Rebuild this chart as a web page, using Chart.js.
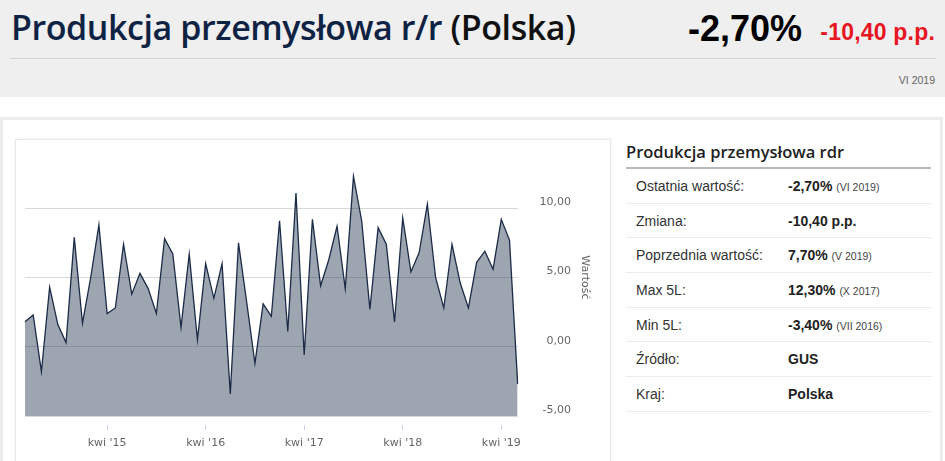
<!DOCTYPE html>
<html>
<head>
<meta charset="utf-8">
<script src="https://cdn.jsdelivr.net/npm/chart.js@4.4.1/dist/chart.umd.min.js"></script>
<style>
  body { margin:0; background:#fff; width:945px; height:461px; overflow:hidden; position:relative; font-family:"Liberation Sans", Arial, sans-serif; }
  .header { position:absolute; left:0; top:0; width:945px; height:97px; background:#efefef; }
  .title { position:absolute; left:11px; top:4px; font-family:"Open Sans", sans-serif; font-weight:600; font-size:34px; color:#0e2244; letter-spacing:-0.42px; white-space:nowrap; }
  .title span { color:#111; }
  .hline { position:absolute; left:10px; top:58px; width:926px; height:1px; background:#d4d4d4; }
  .big { position:absolute; right:143px; top:8px; font-weight:bold; font-size:36px; color:#000; }
  .chg { position:absolute; right:10px; top:19px; font-weight:bold; font-size:23px; color:#e8161f; letter-spacing:0.2px; }
  .date { position:absolute; right:10px; top:74px; font-size:10.5px; color:#666; }
  .panel { position:absolute; left:0; top:117px; width:937px; height:400px; border:3px solid #ececec; }
  .box { position:absolute; left:15px; top:139px; width:594px; height:340px; border:1px solid #e8e8e8; box-shadow:0 0 3px rgba(0,0,0,0.08); }
  #chart { position:absolute; left:15px; top:139px; }
  .side { position:absolute; left:626px; top:140px; width:305px; }
  .side h3 { margin:0; font-family:"Open Sans", sans-serif; font-weight:600; font-size:16.5px; color:#222; height:27px; line-height:24px; border-bottom:2px solid #b8b8b8; }
  .row { height:34.67px; box-sizing:border-box; border-bottom:1px solid #ececec; position:relative; font-size:14px; color:#333; }
  .row .l { position:absolute; left:10px; top:9px; }
  .row .v { position:absolute; left:162px; top:9px; font-weight:bold; color:#222; }
  .row .v small { font-weight:normal; font-size:10.5px; color:#444; }
</style>
</head>
<body>
<div class="header">
  <div class="title">Produkcja przemysłowa r/r <span>(Polska)</span></div>
  <div class="hline"></div>
  <div class="big">-2,70%</div>
  <div class="chg">-10,40 p.p.</div>
  <div class="date">VI 2019</div>
</div>
<div class="panel"></div>
<div class="box"></div>
<canvas id="chart" width="595" height="322"></canvas>
<div class="side">
  <h3>Produkcja przemysłowa rdr</h3>
  <div class="row"><span class="l">Ostatnia wartość:</span><span class="v">-2,70% <small>(VI 2019)</small></span></div>
  <div class="row"><span class="l">Zmiana:</span><span class="v">-10,40 p.p.</span></div>
  <div class="row"><span class="l">Poprzednia wartość:</span><span class="v">7,70% <small>(V 2019)</small></span></div>
  <div class="row"><span class="l">Max 5L:</span><span class="v">12,30% <small>(X 2017)</small></span></div>
  <div class="row"><span class="l">Min 5L:</span><span class="v">-3,40% <small>(VII 2016)</small></span></div>
  <div class="row"><span class="l">Źródło:</span><span class="v">GUS</span></div>
  <div class="row"><span class="l">Kraj:</span><span class="v">Polska</span></div>
</div>
<script>
// miesiace VI 2014 - VI 2019
var months = [
  "cze '14", "lip '14", "sie '14", "wrz '14", "paź '14", "lis '14", "gru '14",
  "sty '15", "lut '15", "mar '15", "kwi '15", "maj '15", "cze '15", "lip '15", "sie '15", "wrz '15", "paź '15", "lis '15", "gru '15",
  "sty '16", "lut '16", "mar '16", "kwi '16", "maj '16", "cze '16", "lip '16", "sie '16", "wrz '16", "paź '16", "lis '16", "gru '16",
  "sty '17", "lut '17", "mar '17", "kwi '17", "maj '17", "cze '17", "lip '17", "sie '17", "wrz '17", "paź '17", "lis '17", "gru '17",
  "sty '18", "lut '18", "mar '18", "kwi '18", "maj '18", "cze '18", "lip '18", "sie '18", "wrz '18", "paź '18", "lis '18", "gru '18",
  "sty '19", "lut '19", "mar '19", "kwi '19", "maj '19", "cze '19"
];

var values = [
  1.8, 2.3, -1.8, 4.3, 1.6, 0.3, 7.9,
  1.7, 5.0, 8.8, 2.4, 2.8, 7.4, 3.8, 5.3, 4.2, 2.4, 7.8, 6.7,
  1.4, 6.7, 0.5, 6.0, 3.5, 6.0, -3.4, 7.5, 3.2, -1.2, 3.1, 2.2,
  9.1, 1.1, 11.1, -0.6, 9.2, 4.4, 6.3, 8.7, 4.2, 12.3, 9.1, 2.7,
  8.6, 7.4, 1.8, 9.3, 5.4, 6.8, 10.3, 5.0, 2.8, 7.4, 4.6, 2.8,
  6.1, 6.9, 5.6, 9.2, 7.7, -2.7
];

var xTickLabels = ["kwi '15", "kwi '16", "kwi '17", "kwi '18", "kwi '19"];
var yTicks = [-5, 0, 5, 10];

var axisFont = { family: 'DejaVu Sans', size: 11 };

var ctx = document.getElementById('chart').getContext('2d');
var chart = new Chart(ctx, {
  type: 'line',
  data: {
    labels: months,
    datasets: [{
      data: values,
      borderColor: '#1b2a47',
      borderWidth: 1.3,
      backgroundColor: 'rgba(28,46,74,0.43)',
      fill: 'start',
      pointRadius: 0,
      tension: 0
    }]
  },
  options: {
    responsive: false,
    animation: false,
    layout: { padding: { left: 10, top: 0, right: 39, bottom: 0 } },
    plugins: { legend: { display: false }, tooltip: { enabled: false } },
    scales: {
      x: {
        offset: false,
        border: { display: false },
        grid: {
          drawOnChartArea: false,
          tickLength: 14,
          tickColor: '#ccd6eb',
          tickBorderDash: [5, 9],
          tickBorderDashOffset: 5
        },
        ticks: { autoSkip: false, maxRotation: 0, padding: 7, color: '#666', font: axisFont },
        afterBuildTicks: function(s) {
          s.ticks = s.ticks.filter(function(t) { return xTickLabels.indexOf(months[t.value]) >= 0; });
        },
        afterFit: function(s) { s.height = 45; }
      },
      y: {
        position: 'right',
        min: -5,
        max: 15,
        border: { display: false },
        grid: { color: '#d8d8d8', drawTicks: false },
        ticks: {
          crossAlign: 'far',
          padding: -7,
          labelOffset: -6,
          color: '#666',
          font: axisFont,
          callback: function(v) { return v.toFixed(2).replace('.', ','); }
        },
        title: { display: true, text: 'Wartość', color: '#666', font: axisFont, padding: { top: -20.6, bottom: 0 } },
        afterBuildTicks: function(s) {
          s.ticks = yTicks.map(function(v) { return { value: v }; });
        },
        afterFit: function(s) { s.width = 53.3; }
      }
    }
  }
});
</script>
</body>
</html>
